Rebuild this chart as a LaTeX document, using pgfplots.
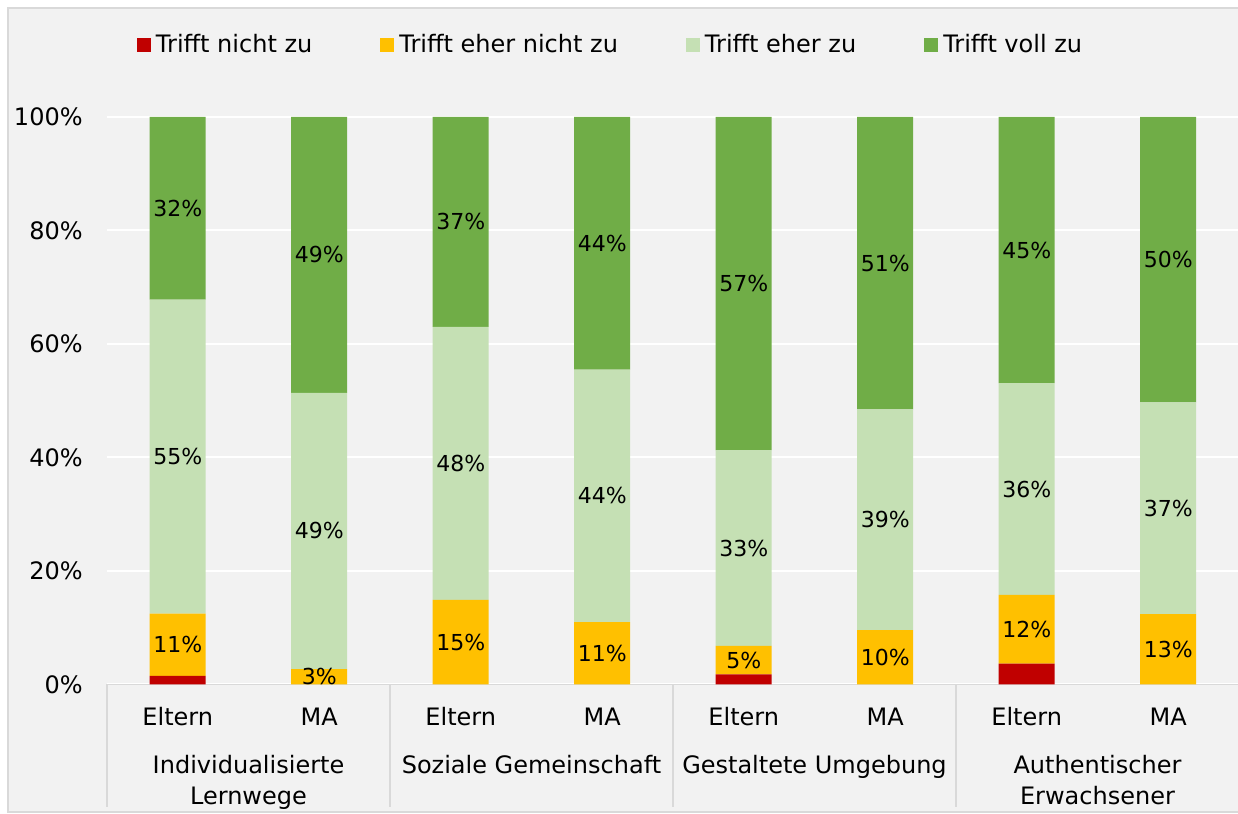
\documentclass[border=0pt]{standalone}
\usepackage{pgfplots}
\pgfplotsset{compat=1.18}
\usepackage{pgfplotstable}
\usepackage{fontspec}
\setmainfont{DejaVu Sans}
\definecolor{cRed}{HTML}{C00000}
\definecolor{cYel}{HTML}{FFC000}
\definecolor{cLG}{HTML}{C5E0B4}
\definecolor{cDG}{HTML}{70AD47}
\definecolor{bgc}{HTML}{F2F2F2}
\definecolor{lnc}{HTML}{D9D9D9}

\pgfplotstableread{
x v
0 1.5
1 0
2 0
3 0
4 1.8
5 0
6 3.7
7 0
}\tRed
\pgfplotstableread{
x v lab
0 11.0 11\%
1 2.7 3\%
2 14.9 15\%
3 11.0 11\%
4 5.0 5\%
5 9.6 10\%
6 12.1 12\%
7 12.4 13\%
}\tYel
\pgfplotstableread{
x v lab
0 55.3 55\%
1 48.7 49\%
2 48.1 48\%
3 44.5 44\%
4 34.5 33\%
5 38.9 39\%
6 37.3 36\%
7 37.3 37\%
}\tLG
\pgfplotstableread{
x v lab
0 32.2 32\%
1 48.6 49\%
2 37.0 37\%
3 44.5 44\%
4 58.7 57\%
5 51.5 51\%
6 46.9 45\%
7 50.3 50\%
}\tDG

\pgfplotsset{centerlab/.style={
  nodes near coords, point meta=explicit symbolic,
  nodes near coords align={center},
  every node near coord/.append style={anchor=center, font=\fontsize{11}{13}\selectfont, text=black, inner sep=0pt}}}

\begin{document}
\begin{tikzpicture}
\fill[white] (0,0) rectangle (619pt,407pt);
\path[use as bounding box] (0,0) rectangle (619pt,407pt);
\filldraw[fill=bgc, draw=lnc, line width=0.75pt] (4pt,1pt) rectangle (640pt,403pt);
\begin{axis}[
  at={(53.5pt,64.75pt)}, anchor=south west,
  scale only axis, width=566pt, height=283.75pt,
  ybar stacked, bar width=28pt,
  xmin=-0.5, xmax=7.5, ymin=0, ymax=100,
  xtick={0,...,7}, xticklabels={Eltern,MA,Eltern,MA,Eltern,MA,Eltern,MA},
  ytick={0,20,40,60,80,100}, yticklabels={0\%,20\%,40\%,60\%,80\%,100\%},
  major tick length=0pt,
  ymajorgrids, grid style={white, line width=1pt},
  axis line style={draw=none},
  tick label style={font=\fontsize{12}{14}\selectfont, text=black},
  xticklabel style={anchor=base, inner sep=0pt, yshift=-20.75pt},
  yticklabel style={anchor=east, inner sep=0pt, xshift=-12pt},
  clip=false,
  legend columns=4,
  legend cell align=left,
  legend style={at={(axis description cs:0,1)}, anchor=south west, xshift=15pt, yshift=30.5pt,
    draw=none, fill=none, inner sep=0pt, outer sep=0pt,
    nodes={inner sep=0pt, font=\fontsize{12}{14}\selectfont, text=black},
    /tikz/every odd column/.append style={column sep=2.5pt},
    /tikz/every even column/.append style={column sep=34pt}},
  legend image code/.code={\fill[#1] (0pt,-3.5pt) rectangle (7pt,3.5pt);},
]
\addplot[fill=cRed, draw=none] table[x=x,y=v] {\tRed};
\addplot[fill=cYel, draw=none, centerlab] table[x=x,y=v,meta=lab] {\tYel};
\addplot[fill=cLG, draw=none, centerlab] table[x=x,y=v,meta=lab] {\tLG};
\addplot[fill=cDG, draw=none, centerlab] table[x=x,y=v,meta=lab] {\tDG};
\legend{Trifft nicht zu, Trifft eher nicht zu, Trifft eher zu, Trifft voll zu}
\draw[lnc, line width=0.75pt] (axis cs:-0.5,0) -- (axis cs:7.5,0);
\draw[lnc, line width=0.75pt] (axis cs:-0.5,0) -- ([yshift=-61.25pt]axis cs:-0.5,0);
\draw[lnc, line width=0.75pt] (axis cs:1.5,0) -- ([yshift=-61.25pt]axis cs:1.5,0);
\draw[lnc, line width=0.75pt] (axis cs:3.5,0) -- ([yshift=-61.25pt]axis cs:3.5,0);
\draw[lnc, line width=0.75pt] (axis cs:5.5,0) -- ([yshift=-61.25pt]axis cs:5.5,0);
\draw[lnc, line width=0.75pt] (axis cs:7.5,0) -- ([yshift=-61.25pt]axis cs:7.5,0);
\node[anchor=north, align=center, inner sep=0pt, font=\fontsize{12}{15.5}\selectfont] at ([yshift=-35.1pt]axis cs:0.5,0) {Individualisierte\\Lernwege};
\node[anchor=north, align=center, inner sep=0pt, font=\fontsize{12}{15.5}\selectfont] at ([yshift=-35.1pt]axis cs:2.5,0) {Soziale Gemeinschaft};
\node[anchor=north, align=center, inner sep=0pt, font=\fontsize{12}{15.5}\selectfont] at ([yshift=-35.1pt]axis cs:4.5,0) {Gestaltete Umgebung};
\node[anchor=north, align=center, inner sep=0pt, font=\fontsize{12}{15.5}\selectfont] at ([yshift=-35.1pt]axis cs:6.5,0) {Authentischer\\Erwachsener};
\end{axis}
\end{tikzpicture}
\end{document}
